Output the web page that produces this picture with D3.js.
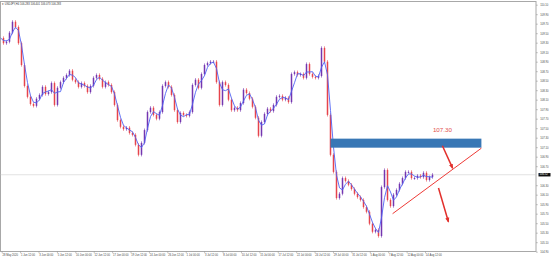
<!DOCTYPE html>
<html>
<head>
<meta charset="utf-8">
<script src="https://cdn.jsdelivr.net/npm/d3@7"></script>
<style>
  body { margin: 0; background: #fff; }
  svg { display: block; font-family: "Liberation Sans", Arial, sans-serif; }
</style>
</head>
<body>
<div id="chart"></div>
<script>
var width = 553, height = 259;
var plot = {left: 0.5, right: 536, top: 1.5, bottom: 251.5};

var titleText = "\u25BE USDJPY,H4  106.283 106.401 106.073 106.283";

// closing prices (about 2.5 H4 bars per value)
var closes = [
  109.40, 109.29, 109.32, 109.51, 109.74, 109.63, 109.29, 108.83, 108.39, 108.16,
  108.01, 107.97, 108.12, 108.20, 108.37, 108.22, 108.26, 108.45, 107.99, 108.35,
  108.47, 108.56, 108.62, 108.71, 108.52, 108.47, 108.37, 108.45, 108.39, 108.26,
  108.39, 108.56, 108.62, 108.54, 108.37, 108.47, 108.41, 108.26, 107.99, 107.67,
  107.53, 107.48, 107.51, 107.40, 107.36, 107.15, 106.94, 107.19, 107.46, 107.84,
  107.93, 107.78, 107.70, 107.84, 108.39, 108.47, 108.37, 108.20, 107.88, 107.63,
  107.82, 107.78, 107.76, 107.84, 108.41, 108.52, 108.35, 108.64, 108.83, 108.87,
  108.90, 108.90, 108.47, 107.99, 108.47, 108.41, 108.10, 107.88, 107.93, 107.88,
  108.03, 108.31, 108.24, 108.12, 107.95, 107.72, 107.34, 107.63, 107.80, 107.91,
  107.86, 107.99, 108.16, 108.18, 108.10, 108.14, 108.05, 108.64, 108.68, 108.62,
  108.64, 108.56, 108.85, 108.64, 108.58, 108.56, 108.60, 109.19, 108.90, 107.78,
  106.94, 106.58, 106.03, 106.12, 106.45, 106.39, 106.31, 106.22, 106.12, 106.05,
  105.99, 105.84, 105.74, 105.49, 105.32, 105.36, 105.23, 106.26, 106.62, 105.99,
  105.86, 106.10, 106.20, 106.33, 106.45, 106.58, 106.58, 106.45, 106.45, 106.50,
  106.47, 106.56, 106.41, 106.47, 106.52
];

var priceTicks = [
  110.10, 109.90, 109.70, 109.50, 109.30, 109.10, 108.90, 108.70, 108.50,
  108.30, 108.10, 107.90, 107.70, 107.50, 107.30, 107.10, 106.90, 106.70,
  106.50, 106.30, 106.10, 105.90, 105.70, 105.50, 105.30, 105.10, 104.90
];

var timeLabels = [
  "28 May 2020", "1 Jun 12:00", "3 Jun 00:00", "5 Jun 12:00", "10 Jun 00:00",
  "12 Jun 12:00", "17 Jun 00:00", "19 Jun 12:00", "24 Jun 00:00", "26 Jun 12:00",
  "1 Jul 00:00", "3 Jul 12:00", "8 Jul 00:00", "10 Jul 12:00", "15 Jul 00:00",
  "17 Jul 12:00", "22 Jul 00:00", "24 Jul 12:00", "29 Jul 00:00", "31 Jul 12:00",
  "5 Aug 00:00", "7 Aug 12:00", "12 Aug 00:00", "14 Aug 12:00"
];

// drawn objects: resistance zone, rising trendline, two arrows
var zone = {from: 110, to: 160.3, top: 107.28, bottom: 107.09, label: "107.30"};
var trend = [{i: 130.7, p: 105.70}, {i: 160.3, p: 107.08}];
var arrows = [
  [{i: 147.3, p: 107.13}, {i: 150.7, p: 106.66}],
  [{i: 146.0, p: 106.24}, {i: 149.3, p: 105.53}]
];

var maPeriod = 3;

var x = d3.scaleLinear().domain([0, closes.length - 1]).range([0.5, 432.5]);
var y = d3.scaleLinear().domain([104.90, 110.10]).range([251.7, 4.7]);
var xTime = d3.scalePoint().domain(timeLabels).range([1.7, 425]);

var svg = d3.select("#chart").append("svg")
    .attr("width", width)
    .attr("height", height);

// frame
svg.append("rect")
  .attr("x", plot.left).attr("y", plot.top)
  .attr("width", plot.right - plot.left).attr("height", plot.bottom - plot.top)
  .attr("fill", "none").attr("stroke", "#a8a8a8").attr("stroke-width", 1);

svg.append("text")
  .attr("x", 2).attr("y", 5.2)
  .attr("font-size", 2.7).attr("fill", "#333")
  .text(titleText);

var last = closes[closes.length - 1];

// price axis, skip labels hidden by the current price box
var yAxis = svg.append("g")
  .attr("transform", "translate(" + plot.right + ",0)")
  .call(d3.axisRight(y)
    .tickValues(priceTicks.filter(p => Math.abs(y(p) - y(last)) > 4))
    .tickSize(1.8).tickPadding(2.5)
    .tickFormat(d3.format(".2f")));
yAxis.select(".domain").remove();
yAxis.selectAll("line").attr("stroke", "#888").attr("stroke-width", 0.5);
yAxis.selectAll("text").attr("font-size", 2.7).attr("fill", "#444");

var xAxis = svg.append("g")
  .attr("transform", "translate(0," + plot.bottom + ")")
  .call(d3.axisBottom(xTime).tickSize(1.8).tickPadding(1));
xAxis.select(".domain").remove();
xAxis.selectAll("line").attr("stroke", "#888").attr("stroke-width", 0.5);
xAxis.selectAll("text")
  .attr("font-size", 2.7).attr("fill", "#444")
  .attr("text-anchor", "start").attr("x", 0.3);

// current price line
svg.append("line")
  .attr("x1", plot.left).attr("x2", plot.right)
  .attr("y1", y(last)).attr("y2", y(last))
  .attr("stroke", "#cfcfcf").attr("stroke-width", 0.6);

// bars: open = previous close
var bars = closes.slice(1).map((c, k) => ({i: k + 1, open: closes[k], close: c}));
var upColor = "#7436b0", downColor = "#e6444c";

svg.selectAll(".wick")
  .data(bars)
  .enter().append("line")
  .attr("class", "wick")
  .attr("x1", d => x(d.i)).attr("x2", d => x(d.i))
  .attr("y1", d => y(Math.max(d.open, d.close)) - 1.6)
  .attr("y2", d => y(Math.min(d.open, d.close)) + 1.6)
  .attr("stroke", d => d.close >= d.open ? upColor : downColor)
  .attr("stroke-width", 0.6);

svg.selectAll(".body")
  .data(bars)
  .enter().append("rect")
  .attr("class", "body")
  .attr("x", d => x(d.i) - 0.75)
  .attr("width", 1.5)
  .attr("y", d => y(Math.max(d.open, d.close)))
  .attr("height", d => Math.max(1, Math.abs(y(d.open) - y(d.close))))
  .attr("fill", d => d.close >= d.open ? upColor : downColor);

// moving average
var ma = closes.map((c, k) => {
  var w = closes.slice(Math.max(0, k - maPeriod + 1), k + 1);
  return d3.mean(w);
});
svg.append("path")
  .datum(ma)
  .attr("fill", "none")
  .attr("stroke", "#4f63f5")
  .attr("stroke-width", 0.9)
  .attr("d", d3.line().x((d, k) => x(k)).y(d => y(d)));

// resistance zone
svg.append("rect")
  .attr("x", x(zone.from)).attr("width", x(zone.to) - x(zone.from))
  .attr("y", y(zone.top)).attr("height", y(zone.bottom) - y(zone.top))
  .attr("fill", "#3877b5");

svg.append("text")
  .attr("x", x(147.3)).attr("y", y(107.45))
  .attr("text-anchor", "middle").attr("dominant-baseline", "middle")
  .attr("font-size", 6.2).attr("fill", "#e2504c")
  .text(zone.label);

svg.append("line")
  .attr("x1", x(trend[0].i)).attr("y1", y(trend[0].p))
  .attr("x2", x(trend[1].i)).attr("y2", y(trend[1].p))
  .attr("stroke", "#ee3a36").attr("stroke-width", 1);

svg.append("defs").append("marker")
  .attr("id", "head")
  .attr("viewBox", "0 0 10 10")
  .attr("refX", 8).attr("refY", 5)
  .attr("markerWidth", 3.4).attr("markerHeight", 3.4)
  .attr("orient", "auto")
  .append("path").attr("d", "M0,1 L10,5 L0,9 z").attr("fill", "#e2302c");

svg.selectAll(".arrow")
  .data(arrows)
  .enter().append("line")
  .attr("class", "arrow")
  .attr("x1", d => x(d[0].i)).attr("y1", d => y(d[0].p))
  .attr("x2", d => x(d[1].i)).attr("y2", d => y(d[1].p))
  .attr("stroke", "#e2302c").attr("stroke-width", 1.5)
  .attr("marker-end", "url(#head)");

// current price box
var box = svg.append("g").attr("transform", "translate(" + (plot.right + 2.5) + "," + y(last) + ")");
box.append("rect").attr("x", 0).attr("y", -1.7).attr("width", 12).attr("height", 3.4).attr("fill", "#111");
box.append("text").attr("x", 1).attr("y", 0).attr("dominant-baseline", "middle")
  .attr("font-size", 2.7).attr("fill", "#fff").text(d3.format(".2f")(last));
</script>
</body>
</html>
